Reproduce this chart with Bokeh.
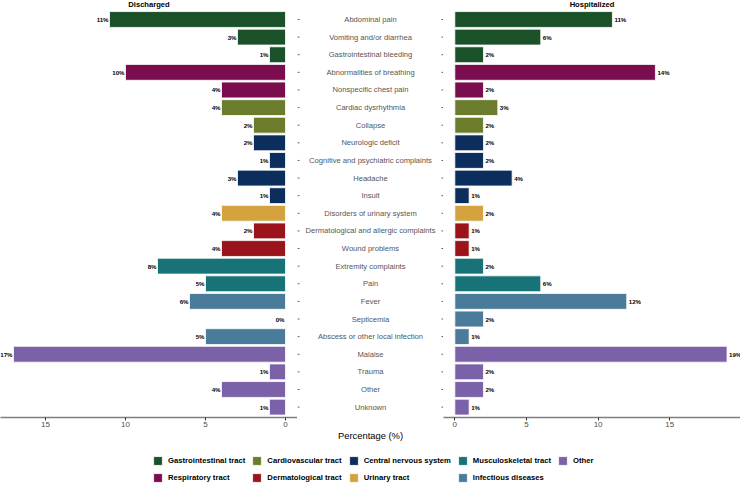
from math import pi, nan

from bokeh.core.properties import value
from bokeh.embed import file_html
from bokeh.layouts import column, row
from bokeh.models import ColumnDataSource, FixedTicker, Legend, LegendItem, Range1d
from bokeh.plotting import figure
from bokeh.resources import INLINE

# ---- data -------------------------------------------------------------
complaints = [
    "Abdominal pain", "Vomiting and/or diarrhea", "Gastrointestinal bleeding",
    "Abnormalities of breathing", "Nonspecific chest pain",
    "Cardiac dysrhythmia", "Collapse",
    "Neurologic deficit", "Cognitive and psychiatric complaints", "Headache", "Insult",
    "Disorders of urinary system",
    "Dermatological and allergic complaints", "Wound problems",
    "Extremity complaints", "Pain",
    "Fever", "Septicemia", "Abscess or other local infection",
    "Malaise", "Trauma", "Other", "Unknown",
]
discharged = [11, 3, 1, 10, 4, 4, 2, 2, 1, 3, 1, 4, 2, 4, 8, 5, 6, 0, 5, 17, 1, 4, 1]
hospitalized = [11, 6, 2, 14, 2, 3, 2, 2, 2, 4, 1, 2, 1, 1, 2, 6, 12, 2, 1, 19, 2, 2, 1]
groups = [
    "Gastrointestinal tract", "Gastrointestinal tract", "Gastrointestinal tract",
    "Respiratory tract", "Respiratory tract",
    "Cardiovascular tract", "Cardiovascular tract",
    "Central nervous system", "Central nervous system", "Central nervous system",
    "Central nervous system",
    "Urinary tract",
    "Dermatological tract", "Dermatological tract",
    "Musculoskeletal tract", "Musculoskeletal tract",
    "Infectious diseases", "Infectious diseases", "Infectious diseases",
    "Other", "Other", "Other", "Other",
]
group_names = [
    "Gastrointestinal tract", "Respiratory tract",
    "Cardiovascular tract", "Dermatological tract",
    "Central nervous system", "Urinary tract",
    "Musculoskeletal tract", "Infectious diseases",
    "Other",
]
group_colors = {
    "Gastrointestinal tract": "#1a5129",
    "Respiratory tract": "#7a0d4e",
    "Cardiovascular tract": "#6b7d2d",
    "Dermatological tract": "#9b141c",
    "Central nervous system": "#0c2e5c",
    "Urinary tract": "#d4a33f",
    "Musculoskeletal tract": "#177378",
    "Infectious diseases": "#4a7b9b",
    "Other": "#7b62a8",
}
ticks = [0, 5, 10, 15]

# ---- shared styling ---------------------------------------------------
FONT = "Liberation Sans"
n = len(complaints)
ypos = [n - i for i in range(n)]          # first complaint on top
Y_TOP = n + 1.078
Y_BOTTOM = 0.41
ROW_H = 445
FRAME_H = 417
colors = [group_colors[g] for g in groups]


def base_panel(width, x_range):
    p = figure(width=width, height=ROW_H, x_range=x_range,
               y_range=Range1d(Y_BOTTOM, Y_TOP),
               output_backend="svg", toolbar_location=None,
               y_axis_location=None, x_axis_location="below",
               min_border_left=0, min_border_right=0,
               min_border_top=0, min_border_bottom=ROW_H - FRAME_H)
    p.grid.visible = False
    p.outline_line_color = None
    return p


def side_panel(values, x_range, title, align, offset):
    p = base_panel(297, x_range)
    ax = p.xaxis[0]
    ax.ticker = FixedTicker(ticks=ticks)
    ax.axis_line_color = "#7f7f7f"
    ax.axis_line_width = 1.6
    ax.major_tick_line_color = "#333333"
    ax.major_tick_out = 3
    ax.major_tick_in = 0
    ax.minor_tick_line_color = None
    ax.major_label_standoff = 1
    ax.major_label_text_font = FONT
    ax.major_label_text_font_size = "8px"
    ax.major_label_text_color = "#4d4d4d"

    src = ColumnDataSource(dict(y=ypos, v=values, color=colors,
                                label=[f"{v}%" for v in values]))
    p.hbar(y="y", left=0, right="v", height=0.9, fill_color="color",
           line_color="white", line_width=0.8, source=src)
    p.text(x="v", y="y", text="label", source=src, text_align=align,
           text_baseline="middle", x_offset=offset,
           text_font=value(FONT), text_font_style="bold",
           text_font_size="6.1px", text_color="black")
    p.text(x=[(x_range.start + x_range.end) / 2], y=[Y_TOP - 0.23], text=[title],
           text_align="center", text_baseline="middle",
           text_font=value(FONT), text_font_style="bold",
           text_font_size="7.6px", text_color="black")
    return p


left = side_panel(discharged, Range1d(17.8125, -0.75), "Discharged", "right", -1)
right = side_panel(hospitalized, Range1d(-0.79, 19.94), "Hospitalized", "left", 2)

# ---- middle: complaint names and the shared axis title -----------------
mid = base_panel(146, Range1d(0, 1))
max_ = mid.xaxis[0]
max_.ticker = FixedTicker(ticks=[])
max_.axis_line_color = None
max_.major_tick_line_color = None
max_.minor_tick_line_color = None
max_.major_tick_out = 0
max_.major_label_standoff = 0
max_.major_label_text_font_size = "0px"
max_.axis_label = "Percentage (%)"
max_.axis_label_standoff = 12
max_.axis_label_text_font = FONT
max_.axis_label_text_font_style = "normal"
max_.axis_label_text_font_size = "9.4px"
max_.axis_label_text_color = "black"

mid.text(x=[0.5] * n, y=ypos, text=complaints, text_align="center",
         text_baseline="middle", text_font=value(FONT),
         text_font_size="7.6px", text_color="#555555")
mid.ray(x=[0] * n, y=ypos, length=2, length_units="screen", angle=0,
        line_color="#555555", line_width=1)
mid.ray(x=[1] * n, y=ypos, length=2, length_units="screen", angle=pi,
        line_color="#555555", line_width=1)

# ---- legend strip -----------------------------------------------------
leg = figure(width=740, height=488 - ROW_H, output_backend="svg",
             toolbar_location=None, x_axis_location=None, y_axis_location=None,
             x_range=Range1d(0, 1), y_range=Range1d(0, 1),
             min_border_left=0, min_border_right=0,
             min_border_top=0, min_border_bottom=0)
leg.grid.visible = False
leg.outline_line_color = None
items = []
for g in group_names:
    # key-only renderer: one undefined bar, so only its legend swatch shows
    r = leg.vbar(x=[nan], top=[nan], width=1, fill_color=group_colors[g],
                 line_color="white", line_width=0.8)
    items.append(LegendItem(label=g, renderers=[r]))
legend = Legend(items=items, orientation="vertical", nrows=2,
                location=(152, 5), padding=0, margin=0, spacing=6,
                glyph_width=11, glyph_height=11, label_height=11,
                label_standoff=5, border_line_color=None,
                background_fill_alpha=0,
                label_text_font=FONT, label_text_font_style="bold",
                label_text_font_size="7.7px", label_text_color="black")
leg.add_layout(legend)

layout = column(row(left, mid, right), leg)
open("out.html", "w").write(file_html(layout, INLINE))
